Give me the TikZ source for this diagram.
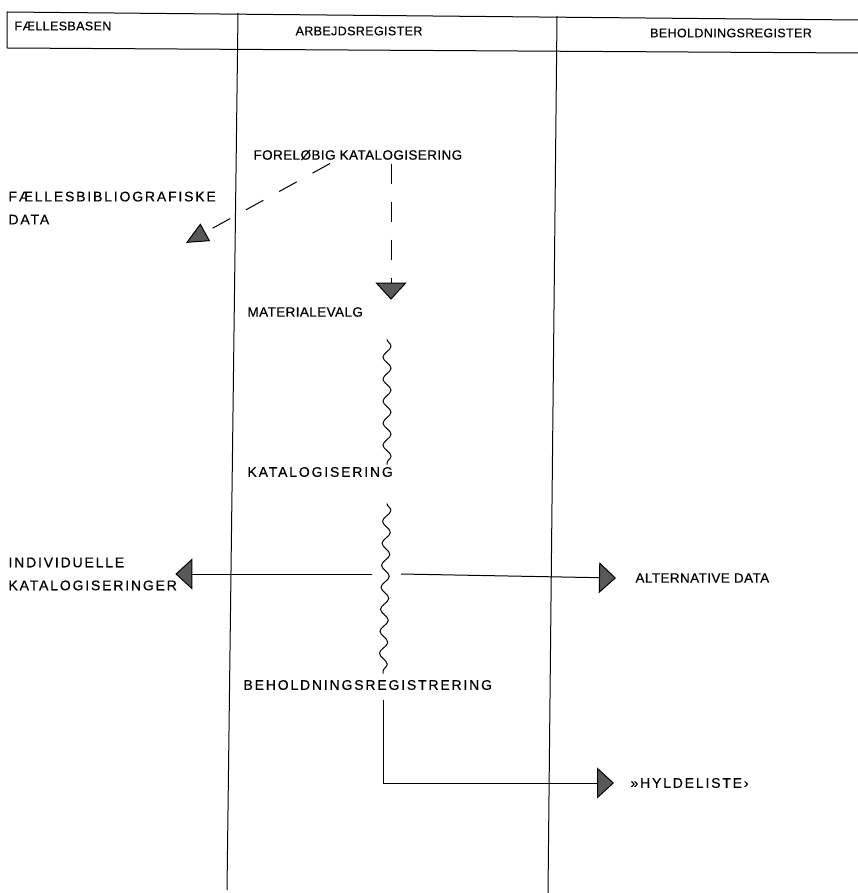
\documentclass[tikz,border=0pt]{standalone}
\usepackage{fontspec}
\setmainfont{Liberation Sans}[LetterSpace=3,FakeBold=0.4]
\newfontfamily\widefont{Liberation Sans}[LetterSpace=13,FakeBold=0.4]
\usepackage{tikz}
\usetikzlibrary{arrows.meta, decorations.pathmorphing}
\tikzset{
		lbl/.style={anchor=west,inner sep=0pt,font=\fontsize{13.5}{23}\selectfont},
		wide lbl/.style={anchor=west,inner sep=0pt,font=\widefont\fontsize{14}{23}\selectfont},
		hdr/.style={inner sep=0pt,font=\fontsize{12.5}{15}\selectfont},
		wavy/.style={decorate,decoration={snake,amplitude=4pt,segment length=22pt}},
		gap dash/.style={dash pattern=on 20pt off 18pt}
	}

\begin{document}
\begin{tikzpicture}[x=1pt,y=-1pt,line width=1pt,>={Triangle[length=17pt,width=31pt,fill=black!65]}]
					\useasboundingbox (0,0) rectangle (858,893);
					\draw (858,20) -- (7,12) -- (7,48) -- (858,53);
					\draw (238,13) -- (227,890);
					\draw (557,16) -- (548,893);

					\node[hdr,anchor=west]     (fb)    at (14,26)   {FÆLLESBASEN};
					\node[hdr]                 (ar)    at (359,31)  {ARBEJDSREGISTER};
					\node[hdr]                 (bh)    at (731,33)  {BEHOLDNINGSREGISTER};
					\node[lbl]                 (forel) at (253,155) {FORELØBIG KATALOGISERING};
					\node[wide lbl,align=left] (fbd)   at (8,208)   {FÆLLESBIBLIOGRAFISKE\\DATA};
					\node[lbl]                 (mat)   at (247,312) {MATERIALEVALG};
					\node[wide lbl]            (kat)   at (247,472) {KATALOGISERING};
					\node[wide lbl,align=left] (ind)   at (8,574)   {INDIVIDUELLE\\KATALOGISERINGER};
					\node[lbl]                 (alt)   at (635,578) {ALTERNATIVE DATA};
					\node[wide lbl]            (beh)   at (243,685) {BEHOLDNINGSREGISTRERING};
					\node[wide lbl]            (hyl)   at (630,783) {»HYLDELISTE›};
					\coordinate (split) at (387,574);

					\path[->] ([xshift=77pt,yshift=-3pt]forel.south west) edge [gap dash,>={Triangle[length=22pt,width=20pt,fill=black!65]}] ([xshift=178pt,yshift=-18pt]fbd.south west);
					\path[->] ([xshift=138pt,yshift=-3pt]forel.south west) edge [gap dash] ([xshift=144pt,yshift=7pt]mat.north west);
					\path (mat.south west) ++(140pt,-22pt) edge [wavy] ([xshift=140pt,yshift=2pt]kat.north west);
					\path (kat.south west) ++(140pt,-26pt) edge [wavy] ([xshift=140pt,yshift=6pt]beh.north west);
					\path[->] ([xshift=-15pt]split) edge ([xshift=-2pt]ind.east);
					\path[->] ([xshift=14pt]split) edge ([xshift=-19pt]alt.west);
					\draw[->] ([xshift=140pt,yshift=-10pt]beh.south west) |- ([xshift=-16pt]hyl.west);
				\end{tikzpicture}
\end{document}
